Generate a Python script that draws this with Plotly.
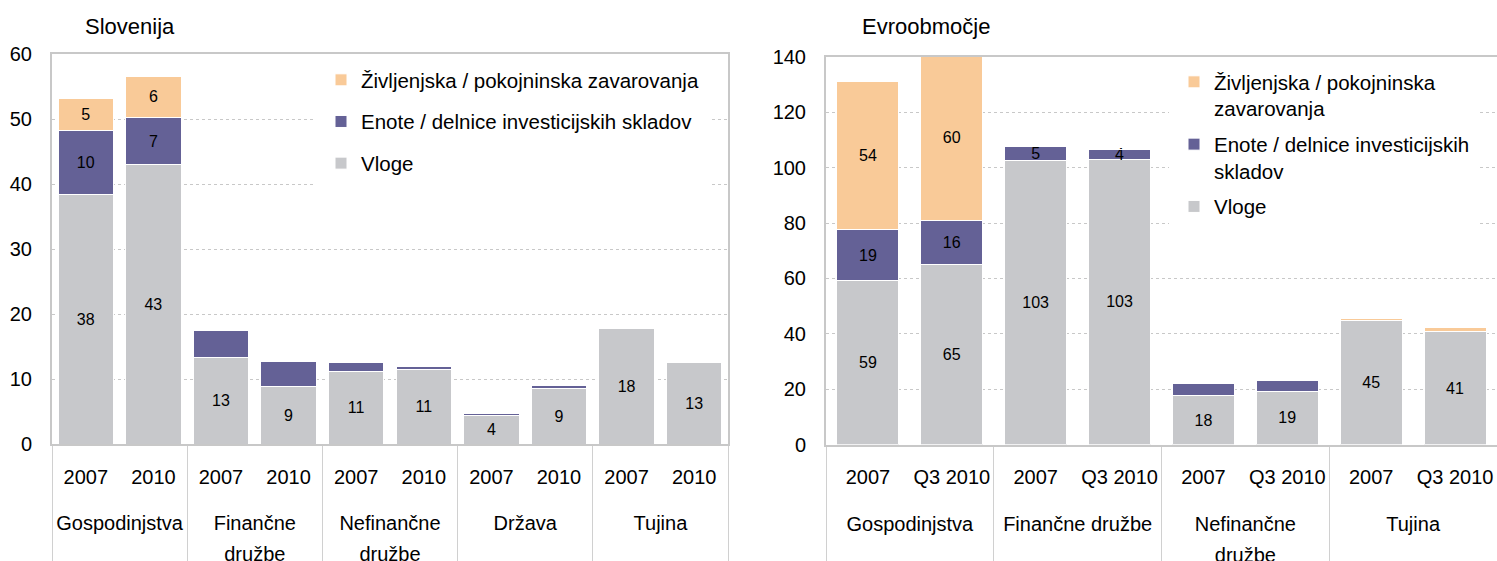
import plotly.graph_objects as go

# ---------------- data ----------------
# Slovenija
si_sectors = ["Gospodinjstva", "Gospodinjstva", "Finančne<br>družbe", "Finančne<br>družbe",
              "Nefinančne<br>družbe", "Nefinančne<br>družbe", "Država", "Država", "Tujina", "Tujina"]
si_periods = ["2007", "2010", "2007", "2010", "2007", "2010", "2007", "2010", "2007", "2010"]
si_vloge = [38.4, 43.0, 13.3, 8.8, 11.1, 11.4, 4.4, 8.6, 17.8, 12.6]
si_enote = [9.8, 7.2, 4.1, 3.9, 1.5, 0.45, 0.3, 0.4, 0.15, 0.1]
si_zivlj = [5.0, 6.4, 0.0, 0.0, 0.0, 0.0, 0.0, 0.0, 0.15, 0.2]
si_show_vloge = [1, 1, 1, 1, 1, 1, 1, 1, 1, 1]
si_show_enote = [1, 1, 0, 0, 0, 0, 0, 0, 0, 0]
si_show_zivlj = [1, 1, 0, 0, 0, 0, 0, 0, 0, 0]

# Evroobmocje
ea_sectors = ["Gospodinjstva", "Gospodinjstva", "Finančne družbe", "Finančne družbe",
              "Nefinančne<br>družbe", "Nefinančne<br>družbe", "Tujina", "Tujina"]
ea_periods = ["2007", "Q3 2010", "2007", "Q3 2010", "2007", "Q3 2010", "2007", "Q3 2010"]
ea_vloge = [59.1, 65.2, 102.6, 103.0, 17.6, 19.2, 44.7, 40.7]
ea_enote = [18.6, 15.6, 5.0, 3.6, 4.5, 3.8, 0.1, 0.1]
ea_zivlj = [53.6, 60.0, 0.0, 0.0, 0.0, 0.0, 0.9, 1.6]
ea_show_vloge = [1, 1, 1, 1, 1, 1, 1, 1]
ea_show_enote = [1, 1, 1, 1, 0, 0, 0, 0]
ea_show_zivlj = [1, 1, 0, 0, 0, 0, 0, 0]

series_names_si = ["Vloge", "Enote / delnice investicijskih skladov",
                   "Življenjska / pokojninska zavarovanja"]
series_names_ea = ["Vloge", "Enote / delnice investicijskih<br>skladov",
                   "Življenjska / pokojninska<br>zavarovanja"]
legend_ranks = [3, 2, 1]
colors = ["#C7C8CB", "#646196", "#F9CA98"]

FONT = "Liberation Sans, Arial, sans-serif"
LABEL_PX = 20


def labels(vals, show):
    return [f"{v:.0f}" if s else "" for v, s in zip(vals, show)]


def styled(t):
    return "<br>".join(f"<span style='font-size:{LABEL_PX}px'>{p}</span>" for p in t.split("<br>"))


def periods_lbl(ps):
    return [styled(p) for p in ps]


def sectors_lbl(cats):
    # group-level labels sit one (wider) line lower, as in the reference
    return ["<br>" + styled(c) for c in cats]


fig = go.Figure()

si_series = [(si_vloge, si_show_vloge), (si_enote, si_show_enote), (si_zivlj, si_show_zivlj)]
for i, (vals, show) in enumerate(si_series):
    fig.add_trace(go.Bar(
        x=[sectors_lbl(si_sectors), periods_lbl(si_periods)], y=vals, name=series_names_si[i],
        marker=dict(color=colors[i], line=dict(color="white", width=1)),
        width=0.82, text=labels(vals, show), textposition="inside",
        insidetextanchor="middle", textangle=0, constraintext="none",
        textfont=dict(family=FONT, size=16, color="black"),
        legend="legend", legendgroup=f"si{i}", legendrank=legend_ranks[i],
        hoverinfo="skip", xaxis="x", yaxis="y"))

ea_series = [(ea_vloge, ea_show_vloge), (ea_enote, ea_show_enote), (ea_zivlj, ea_show_zivlj)]
for i, (vals, show) in enumerate(ea_series):
    fig.add_trace(go.Bar(
        x=[sectors_lbl(ea_sectors), periods_lbl(ea_periods)], y=vals, name=series_names_ea[i],
        marker=dict(color=colors[i], line=dict(color="white", width=1)),
        width=0.74, text=labels(vals, show), textposition="inside",
        insidetextanchor="middle", textangle=0, constraintext="none",
        textfont=dict(family=FONT, size=16, color="black"),
        legend="legend2", legendgroup=f"ea{i}", legendrank=legend_ranks[i],
        hoverinfo="skip", xaxis="x2", yaxis="y2"))

W, H = 1497, 561
frame = "#C8C8C8"
grid = "#C8C8C8"

xcommon = dict(type="multicategory", showline=True, mirror=True, linecolor=frame, linewidth=2,
               showgrid=False, ticks="", showdividers=True, dividercolor="#D0D0D0",
               dividerwidth=1, tickfont=dict(family=FONT, size=24, color="black"),
               tickangle=0, automargin=False, ticklabelstandoff=9)
ycommon = dict(showline=True, mirror=True, linecolor=frame, linewidth=2, showgrid=True,
               gridcolor=grid, griddash="dot", gridwidth=1, zeroline=False, ticks="",
               tickfont=dict(family=FONT, size=20, color="black"), automargin=False,
               ticklabelstandoff=14)

fig.update_layout(
    width=W, height=H, margin=dict(l=0, r=0, t=0, b=0, autoexpand=False),
    paper_bgcolor="white", plot_bgcolor="white", barmode="stack",
    showlegend=True,
    xaxis=dict(domain=[52 / W, 728 / W], anchor="y", **xcommon),
    yaxis=dict(domain=[1 - 444 / H, 1 - 54 / H], anchor="x", range=[0, 60], dtick=10, **ycommon),
    xaxis2=dict(domain=[826 / W, 1497 / W], anchor="y2", **xcommon),
    yaxis2=dict(domain=[1 - 444.5 / H, 1 - 57 / H], anchor="x2", range=[0, 140], dtick=20, **ycommon),
    legend=dict(x=316 / W, y=1 - 55 / H, xanchor="left", yanchor="top",
                traceorder="grouped", tracegroupgap=12,
                bgcolor="white", bordercolor="white", borderwidth=5,
                font=dict(family=FONT, size=20.5, color="black"),
                valign="top"),
    legend2=dict(x=1169 / W, y=1 - 57 / H, xanchor="left", yanchor="top",
                 traceorder="grouped", tracegroupgap=6,
                 bgcolor="white", bordercolor="white", borderwidth=5,
                 font=dict(family=FONT, size=20.5, color="black"),
                 valign="top"),
    annotations=[
        dict(text="Slovenija", x=83 / W, y=1 - 27 / H, xref="paper", yref="paper",
             xanchor="left", yanchor="middle", showarrow=False,
             font=dict(family=FONT, size=22, color="black")),
        dict(text="Evroobmočje", x=860 / W, y=1 - 27 / H, xref="paper", yref="paper",
             xanchor="left", yanchor="middle", showarrow=False,
             font=dict(family=FONT, size=22, color="black")),
    ],
)

fig.write_html("out.html", config={"displayModeBar": False},
               post_script="document.body.style.margin='0px';"
                           "document.body.style.overflow='hidden';")
